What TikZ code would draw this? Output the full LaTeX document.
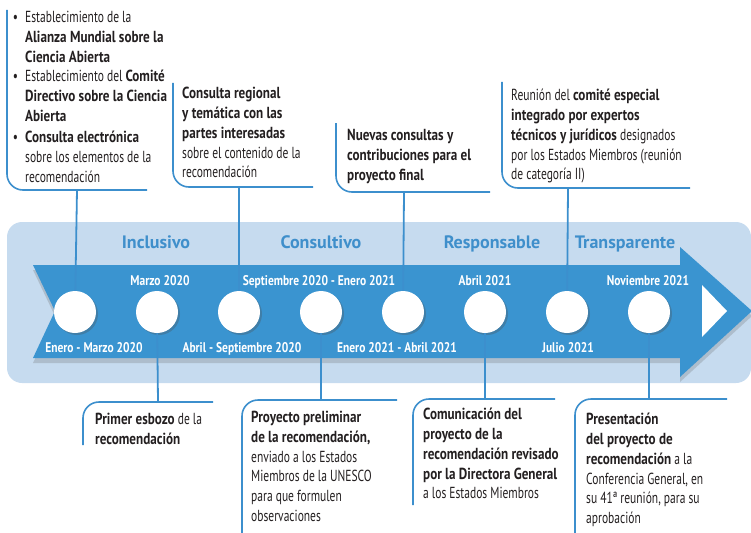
\documentclass[tikz,border=0pt]{standalone}
\usepackage{fontspec}
\setmainfont{PT Sans}[FakeStretch=0.72,BoldFeatures={FakeStretch=0.82}]
\newfontfamily\catfont{PT Sans}
\usetikzlibrary{shadows}

\definecolor{bgblue}{HTML}{C6DBEF}
\definecolor{bandblue}{HTML}{3A94D0}
\definecolor{lineblue}{HTML}{3C8FCD}
\definecolor{catblue}{HTML}{3F8FCB}
\definecolor{txtgray}{HTML}{231F20}

\tikzset{
  dot/.style={circle,fill=white,minimum size=42pt,inner sep=0pt,
    drop shadow={shadow xshift=2pt,shadow yshift=-2pt,opacity=0.3,fill=black!70}},
  datelbl/.style={anchor=base,text=white,inner sep=0pt,font=\fontsize{14}{16}\selectfont\bfseries},
  catlbl/.style={anchor=base,text=catblue,inner sep=0pt,font=\catfont\fontsize{18}{20}\selectfont\bfseries},
  frame/.style={lineblue,line width=1.6pt,rounded corners=16pt},
  conn/.style={lineblue,line width=1.8pt},
  info/.style={anchor=north west,inner sep=0pt,align=left,text=txtgray,
    font=\fontsize{16}{19.8}\selectfont},
}
\newcommand{\bul}{\llap{\textbullet\hspace{7pt}}}

\begin{document}
\begin{tikzpicture}[x=1pt,y=-1pt]
  \useasboundingbox (0,0) rectangle (751,532);
  \clip (0,0) rectangle (751,532);
  % Light background strip
  \fill[bgblue,rounded corners=15pt] (7,222) rectangle (751,383);
  % Timeline arrow
  \fill[bandblue,drop shadow={shadow xshift=0pt,shadow yshift=-5pt,opacity=0.25,fill=black!60}]
    (33,265) -- (680,265) -- (680,247) -- (752,311) -- (680,377)
    -- (680,358) -- (33,358) -- (55,311) -- cycle;
  \fill[white] (702,285) -- (727,311) -- (702,337) -- cycle;
  % Categories
  \node[catlbl] (inclusivo) at (156,248) {Inclusivo};
  \node[catlbl] (consultivo) at (321,248) {Consultivo};
  \node[catlbl] (responsable) at (492,248) {Responsable};
  \node[catlbl] (transparente) at (625,248) {Transparente};
  % Milestones
  \foreach \i/\x in {1/75,2/157,3/239,4/321,5/403,6/485,7/567,8/649}
    \node[dot] (c\i) at (\x,312) {};
  % Dates
  \node[datelbl] (d2) at (160,285) {Marzo 2020};
  \node[datelbl] (d4) at (319,285) {Septiembre 2020 - Enero 2021};
  \node[datelbl] (d6) at (485,285) {Abril 2021};
  \node[datelbl] (d8) at (648,285) {Noviembre 2021};
  \node[datelbl] (d1) at (94,352) {Enero - Marzo 2020};
  \node[datelbl] (d3) at (242,352) {Abril - Septiembre 2020};
  \node[datelbl] (d5) at (397,352) {Enero 2021 - Abril 2021};
  \node[datelbl] (d7) at (568,352) {Julio 2021};

  % Upper boxes
  \draw[frame] (7,10) -- (7,190) -- (147,190);
  \node[info] (b1) at (25,11) {\bul Establecimiento de la\\
    \textbf{Alianza Mundial sobre la}\\ \textbf{Ciencia Abierta}\\
    \bul Establecimiento del \textbf{Comité}\\
    \textbf{Directivo sobre la Ciencia}\\ \textbf{Abierta}\\[1.5pt]
    \bul\textbf{Consulta electrónica}\\ sobre los elementos de la\\ recomendación};
  \coordinate (t1) at (77,190);
  \draw[frame] (173,83) -- (173,187) -- (313,187);
  \node[info] (b2) at (182,87) {\textbf{Consulta regional}\\
    \textbf{y temática con las}\\ \textbf{partes interesadas}\\
    sobre el contenido de la\\ recomendación};
  \coordinate (t3) at (239,187);
  \draw[frame] (336,123) -- (336,192) -- (490,192);
  \node[info] (b3) at (347,129) {\textbf{Nuevas consultas y}\\
    \textbf{contribuciones para el}\\ \textbf{proyecto final}};
  \coordinate (t5) at (404,192);
  \draw[frame] (502,82) -- (502,188) -- (690,188);
  \node[info] (b4) at (511,89) {Reunión del \textbf{comité especial}\\
    \textbf{integrado por expertos}\\
    \textbf{técnicos y jurídicos} designados\\
    por los Estados Miembros (reunión\\ de categoría II)};
  \coordinate (t7) at (568,188);

  % Lower boxes
  \draw[frame] (83,445) -- (83,402) -- (213,402);
  \node[info] (b5) at (95,413) {\textbf{Primer esbozo} de la\\ \textbf{recomendación}};
  \coordinate (t2) at (158,402);
  \draw[frame] (242,540) -- (242,400) -- (397,400);
  \node[info] (b6) at (251,411) {\textbf{Proyecto preliminar}\\
    \textbf{de la recomendación,}\\ enviado a los Estados\\
    Miembros de la UNESCO\\ para que formulen\\ observaciones};
  \coordinate (t4) at (321,400);
  \draw[frame] (413,505) -- (413,399) -- (555,399);
  \node[info] (b7) at (423,408) {\textbf{Comunicación del}\\
    \textbf{proyecto de la}\\ \textbf{recomendación revisado}\\
    \textbf{por la Directora General}\\ a los Estados Miembros};
  \coordinate (t6) at (485,399);
  \draw[frame] (575,540) -- (575,399) -- (727,399);
  \node[info] (b8) at (586,413) {\textbf{Presentación}\\
    \textbf{del proyecto de}\\ \textbf{recomendación} a la\\
    Conferencia General, en\\ su 41ª reunión, para su\\ aprobación};
  \coordinate (t8) at (649,399);

  % Connectors
  \foreach \i in {1,...,8}
    \draw[conn] (t\i) -- (c\i);
\end{tikzpicture}
\end{document}
